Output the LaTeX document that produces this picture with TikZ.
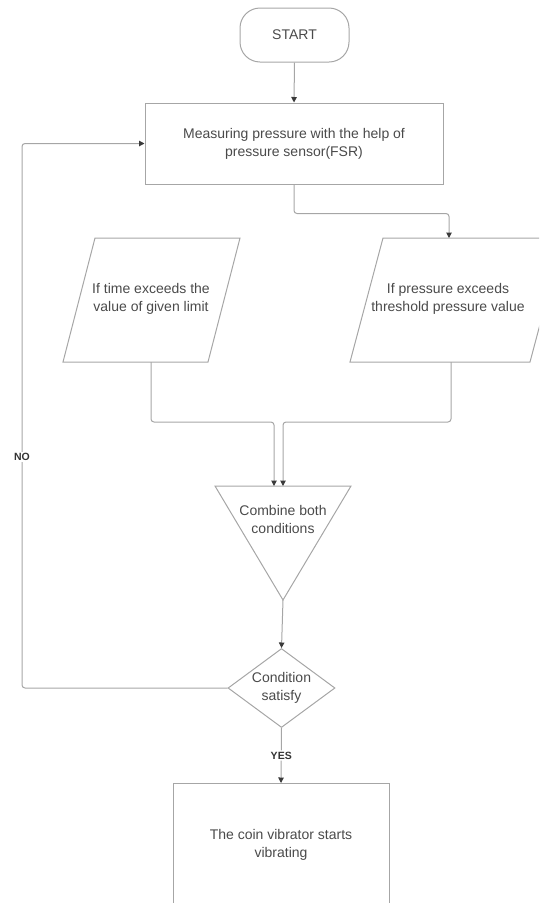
\documentclass[tikz,border=0pt]{standalone}
\usepackage{fontspec}
\setmainfont{Liberation Sans}
\usetikzlibrary{arrows.meta,shapes.geometric,calc}
\definecolor{linec}{HTML}{A6A6A6}
\definecolor{txtc}{HTML}{4A4A4A}
\definecolor{tipc}{HTML}{3A3A3A}
\begin{document}
\begin{tikzpicture}[x=1pt,y=-1pt,
  shapeline/.style={draw=linec, line width=1pt},
  txt/.style={text=txtc, font=\fontsize{14}{18}\selectfont, align=center, inner sep=0pt},
  conn/.style={draw=linec, line width=1pt, rounded corners=3pt,
    -{Triangle[width=5.5pt,length=5.5pt,color=tipc]}},
  lbl/.style={fill=white, text=black!80, font=\bfseries\fontsize{10.5}{12}\selectfont, inner sep=1.5pt}]
\useasboundingbox (0,0) rectangle (539,903);
\clip (0,0) rectangle (539,903);

% START
\node[shapeline, txt, rounded corners=20pt, minimum width=109pt, minimum height=54pt] (start) at (294.5,35) {START};

% measuring
\node[shapeline, txt, minimum width=298pt, minimum height=81pt] (meas) at (294,143.5)
  {Measuring pressure with the help of\\pressure sensor(FSR)};

% left parallelogram
\coordinate (tbl) at (63,362);
\coordinate (tbr) at (208,362);
\coordinate (ttr) at (240,238);
\coordinate (ttl) at (95,238);
\draw[shapeline] (tbl) -- (tbr) -- (ttr) -- (ttl) -- cycle;
\node[txt] (ptime) at (151,299) {If time exceeds the\\value of given limit};
\coordinate (timeout) at (151,362);

% right parallelogram
\coordinate (pbl) at (350,362);
\coordinate (pbr) at (530,362);
\coordinate (ptr) at (563,238);
\coordinate (ptl) at (383,238);
\draw[shapeline] (pbl) -- (pbr) -- (ptr) -- (ptl) -- cycle;
\node[txt] (ppress) at (448,299) {If pressure exceeds\\threshold pressure value};
\coordinate (pressin) at (449,238);
\coordinate (pressout) at (451,362);

% triangle
\coordinate (ctl) at (215,486);
\coordinate (ctr) at (351,486);
\coordinate (capex) at (283,600);
\draw[shapeline] (ctl) -- (ctr) -- (capex) -- cycle;
\node[txt] (comb) at (283,519) {Combine both\\conditions};
\coordinate (tin1) at (274,486);
\coordinate (tin2) at (283,486);

% decision
\node[diamond, shapeline, minimum width=107pt, minimum height=79pt, inner sep=0pt,
  label={[txt]center:Condition\\satisfy}] (dec) at (281.5,688) {};

% final box
\node[shapeline, minimum width=216pt, minimum height=150pt, anchor=north] (vib) at (281,783) {};
\node[txt] (vibtxt) at (281,845) {The coin vibrator starts\\vibrating};

% connectors
\draw[conn] (start.south) -- (meas.north);
\draw[conn] (meas.south) -- ++(0,29) -| (pressin);
\draw[conn] (timeout) -- ++(0,60) -| (tin1);
\draw[conn] (pressout) -- ++(0,60) -| (tin2);
\draw[conn] (capex) -- (dec.north);
\draw[conn] (dec.south) -- node[lbl] (yes) {YES} (vib.north);
\coordinate (nocorner) at (22,688);
\draw[conn] (dec.west) -- (nocorner) |- (meas.west);
\node[lbl] (no) at (22,457) {NO};
\end{tikzpicture}
\end{document}
